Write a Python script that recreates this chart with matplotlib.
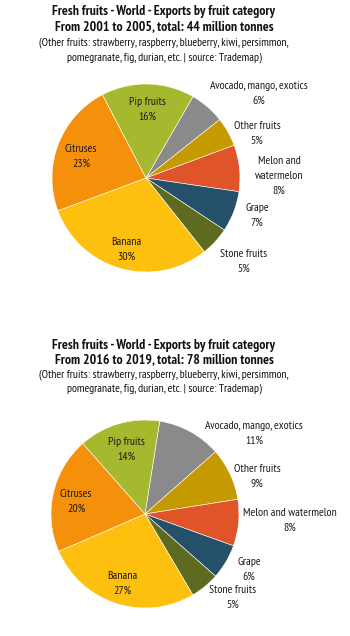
import matplotlib
matplotlib.use("Agg")
import matplotlib.pyplot as plt

plt.rcParams['font.family'] = ['PT Sans Narrow', 'DejaVu Sans']

# ---- data ----
categories = ["Avocado, mango, exotics", "Other fruits", "Melon and watermelon",
              "Grape", "Stone fruits", "Banana", "Citruses", "Pip fruits"]
shares_2001_2005 = [6, 5, 8, 7, 5, 30, 23, 16]
shares_2016_2019 = [11, 9, 8, 6, 5, 27, 20, 14]
colors = ["#8a8a8a", "#c49a00", "#e0542a", "#25506a", "#5e6a1f",
          "#fdc00e", "#f5900a", "#a6b92e"]

titles_1 = ["Fresh fruits - World - Exports by fruit category",
            "From 2001 to 2005, total: 44 million tonnes"]
titles_2 = ["Fresh fruits - World - Exports by fruit category",
            "From 2016 to 2019, total: 78 million tonnes"]
note = ["(Other fruits: strawberry, raspberry, blueberry, kiwi, persimmon,",
        "pomegranate, fig, durian, etc. | source: Trademap)"]

# label display names (line breaks as in the chart)
names_1 = ["Avocado, mango, exotics", "Other fruits", "Melon and\nwatermelon",
           "Grape", "Stone fruits", "Banana", "Citruses", "Pip fruits"]
names_2 = ["Avocado, mango, exotics", "Other fruits", "Melon and watermelon",
           "Grape", "Stone fruits", "Banana", "Citruses", "Pip fruits"]

W, H = 350, 636
fig = plt.figure(figsize=(W / 100, H / 100), dpi=100)
fig.patch.set_facecolor("white")


def px(x, y):
    return x / W, 1 - y / H


def draw_block(title_lines, title_y, note_y, values, names, center, r, start,
               label_pos):
    for line, y in zip(title_lines, title_y):
        fig.text(*px(164, y), line, ha="center", va="center",
                 fontsize=9.9, fontweight="bold", color="#111111")
    for line, y in zip(note, note_y):
        fig.text(*px(164, y), line, ha="center", va="center",
                 fontsize=8.4, color="#111111")
    cx, cy = center
    ax = fig.add_axes([(cx - r) / W, 1 - (cy + r) / H, 2 * r / W, 2 * r / H])
    ax.pie(values, colors=colors, startangle=start, counterclock=False,
           radius=1, wedgeprops=dict(linewidth=0.4, edgecolor="white"))
    ax.set_xlim(-1, 1)
    ax.set_ylim(-1, 1)
    ax.axis("off")
    for name, v, (x, y) in zip(names, values, label_pos):
        fig.text(*px(x, y), f"{name}\n{v}%", ha="center", va="center",
                 fontsize=8.5, color="#1a1a1a", linespacing=1.6)


draw_block(titles_1, [11, 27], [43, 58], shares_2001_2005, names_1,
           (146, 178), 94, 60,
           [(259, 93), (257, 133), (279, 176), (257, 215), (244, 261),
            (126, 249), (81, 156), (147, 109)])

draw_block(titles_2, [345, 360], [375, 389], shares_2016_2019, names_2,
           (145, 514), 94, 81,
           [(254, 433), (257, 476), (290, 520), (249, 569), (233, 597),
            (122, 583), (76, 501), (126, 449)])

fig.savefig("out.png", dpi=100, facecolor="white")
